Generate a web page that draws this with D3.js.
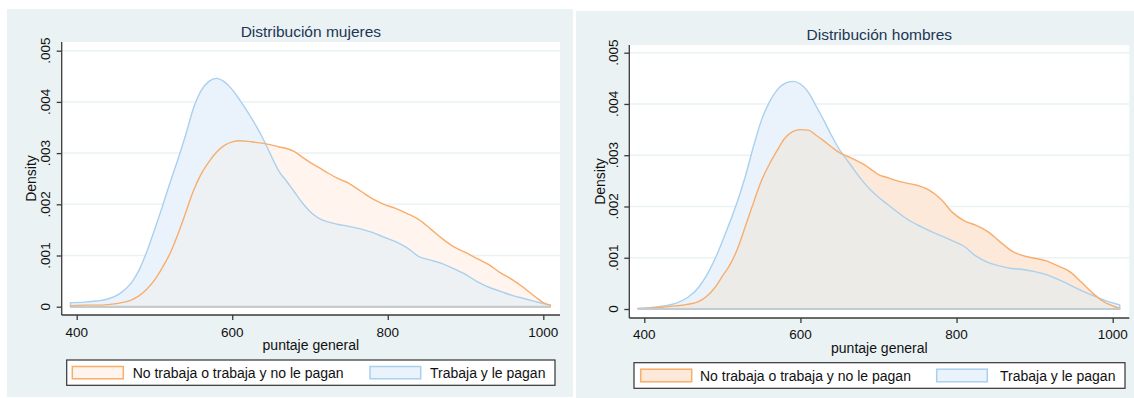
<!DOCTYPE html>
<html>
<head>
<meta charset="utf-8">
<script src="https://cdn.jsdelivr.net/npm/d3@7"></script>
<style>
  body { margin: 0; background: #ffffff; }
  svg { display: block; font-family: "Liberation Sans", Arial, sans-serif; }
</style>
</head>
<body>
<svg id="chart" width="1134" height="398"></svg>
<script>
// puntaje general (shared grid for all curves)
var scores = [392, 410, 425, 440, 455, 470, 480, 490, 500, 510, 520, 530, 540, 550, 560, 570, 580, 590, 600,
  610, 620, 630, 640, 650, 660, 670, 680, 690, 700, 710, 720, 735, 750, 765, 780, 795, 810, 825, 840,
  855, 870, 885, 900, 915, 930, 945, 960, 975, 990, 1000, 1009];

var mujeresTrabaja = [0.00008, 0.00009, 0.00011, 0.00015, 0.00025, 0.00046, 0.00071, 0.00107, 0.0015, 0.00195,
  0.00242, 0.00287, 0.00335, 0.00387, 0.00422, 0.0044, 0.00446, 0.00439, 0.00424, 0.00403, 0.0038, 0.00355,
  0.00327, 0.00295, 0.00265, 0.00245, 0.00224, 0.00203, 0.00186, 0.00174, 0.00167, 0.00161, 0.00157, 0.00152,
  0.00145, 0.00136, 0.00127, 0.00115, 0.00098, 0.00091, 0.00084, 0.00074, 0.00063, 0.00049, 0.00038, 0.0003,
  0.00022, 0.00016, 0.0001, 0.00006, 0.00003];
var mujeresNoTrabaja = [0.00002, 0.00003, 0.00003, 0.00004, 0.00007, 0.00013, 0.00021, 0.00034, 0.00052, 0.00076,
  0.00104, 0.00141, 0.00183, 0.00226, 0.00259, 0.00283, 0.00302, 0.00315, 0.00322, 0.00324, 0.00323, 0.00321,
  0.00319, 0.00316, 0.00312, 0.00309, 0.00303, 0.00292, 0.00282, 0.00273, 0.00264, 0.00251, 0.00241, 0.00226,
  0.00211, 0.002, 0.00192, 0.00182, 0.0017, 0.00152, 0.00133, 0.00117, 0.00106, 0.00094, 0.00082, 0.00066,
  0.00053, 0.00037, 0.00019, 0.00008, 0.00003];

var hombresTrabaja = [0.00001, 0.00003, 0.00006, 0.00011, 0.00022, 0.00043, 0.00066, 0.00096, 0.00132, 0.00171,
  0.00213, 0.00262, 0.00318, 0.00368, 0.00403, 0.00427, 0.0044, 0.00444, 0.00439, 0.00423, 0.00396, 0.00368,
  0.00338, 0.00311, 0.0029, 0.00269, 0.00249, 0.00232, 0.00218, 0.00206, 0.00194, 0.00177, 0.00164, 0.00153,
  0.00143, 0.00133, 0.00122, 0.00103, 0.00091, 0.00084, 0.00079, 0.00077, 0.00073, 0.00067, 0.00058, 0.00047,
  0.00036, 0.00026, 0.00017, 0.00012, 0.00008];
var hombresNoTrabaja = [0.00001, 0.00002, 0.00004, 0.00006, 0.00009, 0.00015, 0.00025, 0.00041, 0.00064, 0.00087,
  0.0012, 0.00164, 0.00208, 0.0025, 0.00282, 0.00309, 0.00333, 0.00346, 0.0035, 0.00349, 0.00339, 0.00328,
  0.00316, 0.00305, 0.00298, 0.00291, 0.00283, 0.00273, 0.00262, 0.00257, 0.00252, 0.00246, 0.00241, 0.00232,
  0.00214, 0.00188, 0.00172, 0.00163, 0.00151, 0.00132, 0.00114, 0.00104, 0.00099, 0.00094, 0.00084, 0.00073,
  0.00052, 0.0003, 0.00013, 0.00006, 0.00001];

var xTicks = [400, 600, 800, 1000];
var yTicks = [0, 0.001, 0.002, 0.003, 0.004, 0.005];
var yTickLabels = ["0", ".001", ".002", ".003", ".004", ".005"];
var legendLabels = ["No trabaja o trabaja y no le pagan", "Trabaja y le pagan"];
var titles = ["Distribución mujeres", "Distribución hombres"];

var svg = d3.select("#chart");

var blueLine = "#a9d0ee", blueFill = "#eaf3fb", orangeLine = "#f8ad6b";

var panels = [
  { title: titles[0], blue: mujeresTrabaja, orange: mujeresNoTrabaja,
    bg: [7, 9, 566, 388], plot: [61.7, 42, 560, 315],
    xr: [76.7, 543.3], yr: [306.7, 50.7],
    orangeFill: "#fff5ee", overlap: "#edf1f4",
    titleY: 37, tickY: 336.5, xLabY: 350, yLabX: 50, densX: 36,
    legend: [66.7, 360, 555, 385.3], sw: [[72.3, 123.3, 132.7], [370, 420.7, 430]], legY: 378.3 },
  { title: titles[1], blue: hombresTrabaja, orange: hombresNoTrabaja,
    bg: [576, 11, 558, 387], plot: [629.3, 45, 1129.3, 318],
    xr: [644.3, 1112.7], yr: [309, 52.7],
    orangeFill: "#fde9d9", overlap: "#ecebe7",
    titleY: 39.5, tickY: 339, xLabY: 352.5, yLabX: 618, densX: 604.5,
    legend: [634, 362.7, 1125, 388.3], sw: [[640.7, 691.7, 700], [936.7, 987.3, 1000]], legY: 381 }
];

panels.forEach(function(p) {
  var g = svg.append("g");
  var x = d3.scaleLinear().domain([400, 1000]).range(p.xr);
  var y = d3.scaleLinear().domain([0, 0.005]).range(p.yr);

  g.append("rect").attr("x", p.bg[0]).attr("y", p.bg[1]).attr("width", p.bg[2]).attr("height", p.bg[3])
    .attr("fill", "#eaf2f3");
  g.append("rect").attr("x", p.plot[0]).attr("y", p.plot[1])
    .attr("width", p.plot[2] - p.plot[0]).attr("height", p.plot[3] - p.plot[1]).attr("fill", "#ffffff");

  // gridlines
  g.selectAll(".grid").data(yTicks.slice(1)).enter().append("line")
    .attr("x1", p.plot[0]).attr("x2", p.plot[2])
    .attr("y1", function(d) { return y(d); }).attr("y2", function(d) { return y(d); })
    .attr("stroke", "#eaf2f3").attr("stroke-width", 1.5);

  var pts = scores.map(function(s, i) { return { s: s, b: p.blue[i], o: p.orange[i] }; });
  var area = function(key) {
    return d3.area().curve(d3.curveMonotoneX).x(function(d) { return x(d.s); }).y0(y(0)).y1(key);
  };
  var aBlue = area(function(d) { return y(d.b); });
  var aOrange = area(function(d) { return y(d.o); });
  var aBoth = area(function(d) { return y(Math.min(d.b, d.o)); });

  g.append("path").datum(pts).attr("d", aBlue).attr("fill", blueFill);
  g.append("path").datum(pts).attr("d", aOrange).attr("fill", p.orangeFill);
  g.append("path").datum(pts).attr("d", aBoth).attr("fill", p.overlap);
  g.append("path").datum(pts).attr("d", aBlue).attr("fill", "none")
    .attr("stroke", blueLine).attr("stroke-width", 1.4).attr("stroke-linejoin", "round");
  g.append("path").datum(pts).attr("d", aOrange).attr("fill", "none")
    .attr("stroke", orangeLine).attr("stroke-width", 1.4).attr("stroke-linejoin", "round");
  g.append("line").attr("x1", x(scores[0])).attr("x2", x(scores[scores.length - 1]))
    .attr("y1", y(0)).attr("y2", y(0)).attr("stroke", "#c2cbcf").attr("stroke-width", 2);

  // axes
  var yAxis = d3.axisLeft(y).tickValues(yTicks).tickSize(5).tickFormat("");
  var yg = g.append("g").attr("transform", "translate(" + p.plot[0] + ",0)").call(yAxis);
  yg.select(".domain").attr("d", "M0," + p.plot[1] + "V" + p.plot[3]);
  var xAxis = d3.axisBottom(x).tickValues(xTicks).tickSize(5).tickFormat("");
  var xg = g.append("g").attr("transform", "translate(0," + p.plot[3] + ")").call(xAxis);
  xg.select(".domain").attr("d", "M" + p.plot[0] + ",0H" + p.plot[2]);
  g.selectAll(".domain, .tick line").attr("stroke", "#3a3a3a").attr("stroke-width", 1.3);

  g.selectAll(".xlab").data(xTicks).enter().append("text")
    .attr("x", function(d) { return x(d); }).attr("y", p.tickY)
    .attr("text-anchor", "middle").attr("font-size", 13.5).attr("fill", "#111")
    .text(function(d) { return d; });
  g.selectAll(".ylab").data(yTicks).enter().append("text")
    .attr("transform", function(d) { return "translate(" + p.yLabX + "," + y(d) + ") rotate(-90)"; })
    .attr("text-anchor", "middle").attr("font-size", 13.5).attr("fill", "#111")
    .text(function(d, i) { return yTickLabels[i]; });

  var cx = (p.plot[0] + p.plot[2]) / 2;
  g.append("text").attr("x", cx).attr("y", p.titleY).attr("text-anchor", "middle")
    .attr("font-size", 15.5).attr("fill", "#1e3556").text(p.title);
  g.append("text").attr("x", cx).attr("y", p.xLabY).attr("text-anchor", "middle")
    .attr("font-size", 14).attr("fill", "#111").text("puntaje general");
  g.append("text").attr("transform", "translate(" + p.densX + "," + ((p.plot[1] + p.plot[3]) / 2) + ") rotate(-90)")
    .attr("text-anchor", "middle").attr("font-size", 14).attr("fill", "#111").text("Density");

  // legend
  var L = p.legend;
  g.append("rect").attr("x", L[0]).attr("y", L[1]).attr("width", L[2] - L[0]).attr("height", L[3] - L[1])
    .attr("fill", "#ffffff").attr("stroke", "#333").attr("stroke-width", 1.2);
  var swFill = [p.orangeFill, blueFill], swLine = [orangeLine, blueLine];
  legendLabels.forEach(function(lab, i) {
    var s = p.sw[i];
    g.append("rect").attr("x", s[0]).attr("y", L[1] + 6.5).attr("width", s[1] - s[0]).attr("height", L[3] - L[1] - 13)
      .attr("fill", swFill[i]).attr("stroke", swLine[i]).attr("stroke-width", 1.5);
    g.append("text").attr("x", s[2]).attr("y", p.legY).attr("font-size", 14).attr("fill", "#111").text(lab);
  });
});
</script>
</body>
</html>
